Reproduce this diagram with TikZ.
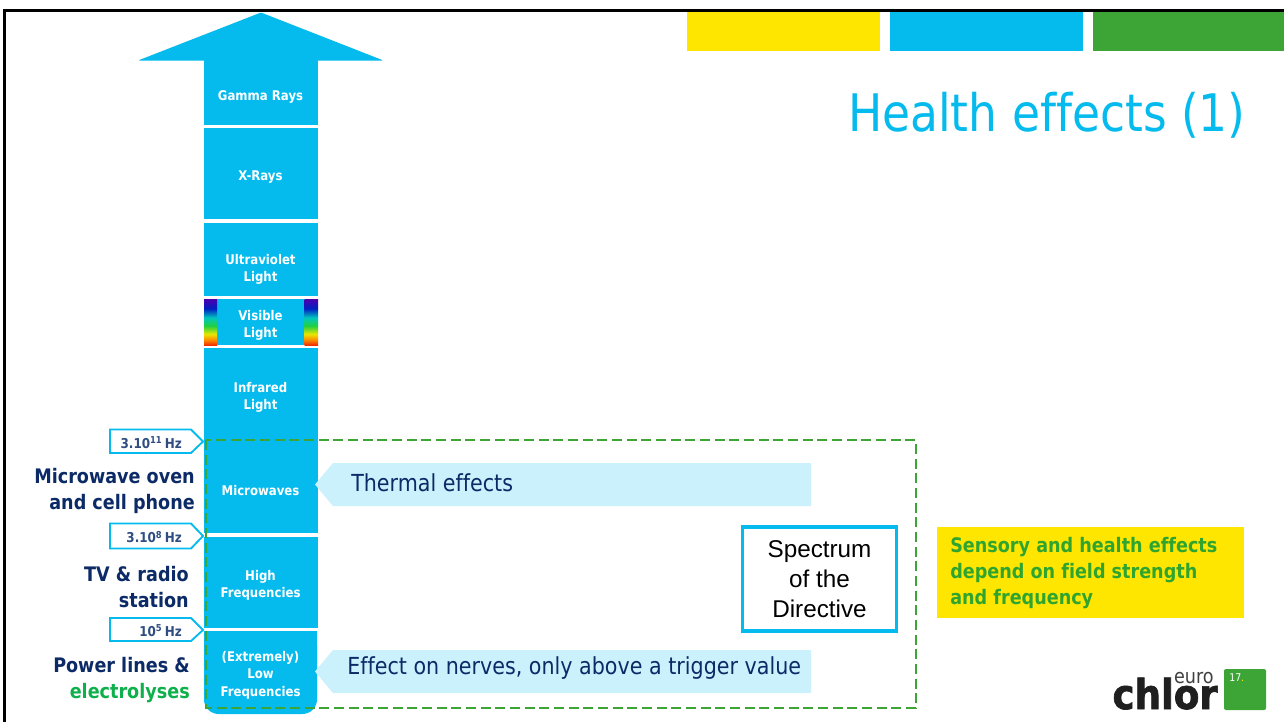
\documentclass[tikz,border=0pt]{standalone}
\usepackage{fontspec}
\setmainfont{DejaVu Sans}[FakeStretch=0.88,Ligatures=NoCommon]
\newfontfamily\arialf{Liberation Sans}
\newfontfamily\logof{DejaVu Sans}[FakeStretch=0.9,FakeBold=1.6,Ligatures=NoCommon]
\usetikzlibrary{shapes.geometric}
\definecolor{ecyan}{HTML}{05BBEE}
\definecolor{eyellow}{HTML}{FFE600}
\definecolor{egreen}{HTML}{3DA535}
\definecolor{enavy}{HTML}{0B2A66}
\definecolor{elight}{HTML}{CBF1FD}
\definecolor{ehz}{HTML}{2F4D80}
\definecolor{egreentxt}{HTML}{0DB04B}
\definecolor{etxtgreen}{HTML}{2FA52F}
\definecolor{spviolet}{HTML}{4A00B0}
\definecolor{spblue}{HTML}{0020C0}
\definecolor{spcyan}{HTML}{00C8C0}
\definecolor{spgreen}{HTML}{20D040}
\definecolor{spyellow}{HTML}{E8E800}
\definecolor{sporange}{HTML}{FF9000}
\definecolor{spred}{HTML}{F03000}
\pgfdeclareverticalshading{spectrumshade}{100bp}{
 color(0bp)=(spred); color(25bp)=(spred); color(31bp)=(sporange); color(37bp)=(spyellow);
 color(46bp)=(spgreen); color(55bp)=(spcyan); color(65bp)=(spblue); color(75bp)=(spviolet); color(100bp)=(spviolet)}
\tikzset{
 x=0.75pt,y=-0.75pt,
 band/.style={fill=ecyan,draw=none},
 bandtxt/.style={text=white,font=\fontsize{10}{13.2}\selectfont\bfseries,align=center,inner sep=0pt},
 hzbox/.style={draw=ecyan,line width=1.4pt,fill=white},
 hztxt/.style={text=ehz,font=\fontsize{10.2}{11}\selectfont\bfseries,inner sep=0pt,anchor=east},
 srctxt/.style={text=enavy,font=\fontsize{15}{19.5}\selectfont\bfseries,align=right,inner sep=0pt,anchor=east},
 efftxt/.style={text=enavy,font=\fontsize{17.6}{20}\selectfont,inner sep=0pt,anchor=west},
 effbox/.style={fill=elight,draw=none},
}
\begin{document}
\begin{tikzpicture}
\useasboundingbox (0,0) rectangle (1284,722);
\fill[white] (0,0) rectangle (1284,722);
% frame
\draw[black,line width=1.6pt] (4.5,722) -- (4.5,10.5) -- (1284,10.5);
% top colour bars
\fill[eyellow] (687,12) rectangle (880,51);
\fill[ecyan] (890,12) rectangle (1083,51);
\fill[egreen] (1093,12) rectangle (1284,51);
\node[text=ecyan,font=\fontsize{38.8}{44}\selectfont,inner sep=0pt,anchor=east] (title) at (1246,115) {Health effects (1)};
% arrow head
\fill[ecyan,rounded corners=1pt] (261,12.5) -- (383.5,60.5) -- (138,60.5) -- cycle;
% bands
\fill[band] (204,60) rectangle (318,125);
\node[bandtxt] (gamma) at (260.5,96.5) {Gamma Rays};
\fill[band] (204,128) rectangle (318,219);
\node[bandtxt] (xray) at (260.5,177.5) {X-Rays};
\fill[band] (204,223) rectangle (318,296);
\node[bandtxt] (uv) at (260.5,269.5) {Ultraviolet\\Light};
\fill[band] (204,299) rectangle (318,345);
\shade[shading=spectrumshade] (204,299.5) rectangle (217,345);
\shade[shading=spectrumshade] (304.5,299.5) rectangle (318,345);
\node[bandtxt] (vis) at (260.5,325.5) {Visible\\Light};
\fill[band] (204,348) rectangle (318,533);
\node[bandtxt] (ir) at (260.5,397.5) {Infrared\\Light};
\node[bandtxt] (micro) at (260.5,491) {Microwaves};
\fill[band] (204,537) rectangle (318,628);
\node[bandtxt] (hf) at (260.5,585.5) {High\\Frequencies};
\fill[band,rounded corners=11pt] (204,631) -- (317,631) -- (317,714) -- (204,714) -- cycle;
\fill[band] (204,631) rectangle (317,650);
\node[bandtxt] (lf) at (260.5,675) {(Extremely)\\Low\\Frequencies};
% Hz tags
\draw[hzbox] (110,429.5) -- (191,429.5) -- (203,441.5) -- (191,453) -- (110,453) -- cycle;
\node[hztxt] (hza) at (182,443) {3.10\textsuperscript{11}\,Hz};
\draw[hzbox] (110,523.5) -- (191,523.5) -- (203,536) -- (191,548.5) -- (110,548.5) -- cycle;
\node[hztxt] (hzb) at (182,537) {3.10\textsuperscript{8}\,Hz};
\draw[hzbox] (110,618) -- (191,618) -- (203,630) -- (191,641) -- (110,641) -- cycle;
\node[hztxt] (hzc) at (182,631) {10\textsuperscript{5}\,Hz};
% source labels
\node[srctxt] (srca) at (195,490.5) {Microwave oven\\and cell phone};
\node[srctxt] (srcb) at (189,587) {TV \& radio\\station};
\node[srctxt] (srcc) at (190,680) {Power lines \&\\\textcolor{egreentxt}{electrolyses}};
% effect arrows
\fill[effbox] (811,463) -- (333,463) -- (315,484.5) -- (333,506) -- (811,506) -- cycle;
\node[efftxt] (eff1) at (351,483) {Thermal effects};
\fill[effbox] (811,650) -- (333,650) -- (315,671.5) -- (333,693) -- (811,693) -- cycle;
\node[efftxt] (eff2) at (347,668) {Effect on nerves, only above a trigger value};
% directive box
\node[draw=ecyan,line width=2.3pt,fill=white,minimum width=115.5pt,minimum height=78pt,inner sep=0pt,align=center,font=\arialf\fontsize{18.2}{22.4}\selectfont] (dir) at (819.5,579) {Spectrum\\of the\\Directive};
% dashed
\draw[egreen,line width=1.9pt,dash pattern=on 7.5pt off 3.5pt] (206,440) rectangle (916,708);
% yellow note
\node[fill=eyellow,minimum width=230.25pt,minimum height=68.25pt,inner sep=0pt] (note) at (1090.5,572.5) {};
\node[text=etxtgreen,font=\fontsize{15}{19.5}\selectfont\bfseries,align=left,inner sep=0pt,anchor=west] (notet) at (950,573.5) {Sensory and health effects\\depend on field strength\\and frequency};
% logo
\fill[egreen,rounded corners=1.5pt] (1224,669) rectangle (1266,710);
\node[text=white,font=\fontsize{8}{9}\selectfont,inner sep=0pt,anchor=west] (n17) at (1229,678) {17\textcolor{eyellow}{.}};
\node[text=black!88,font=\logof\fontsize{31}{31}\selectfont\bfseries,inner sep=0pt,anchor=base east] (chlor) at (1218,709) {chlor};
\node[text=black!75,font=\fontsize{15}{15}\selectfont,inner sep=0pt,anchor=base east] (euro) at (1214,683) {euro};
\end{tikzpicture}
\end{document}
